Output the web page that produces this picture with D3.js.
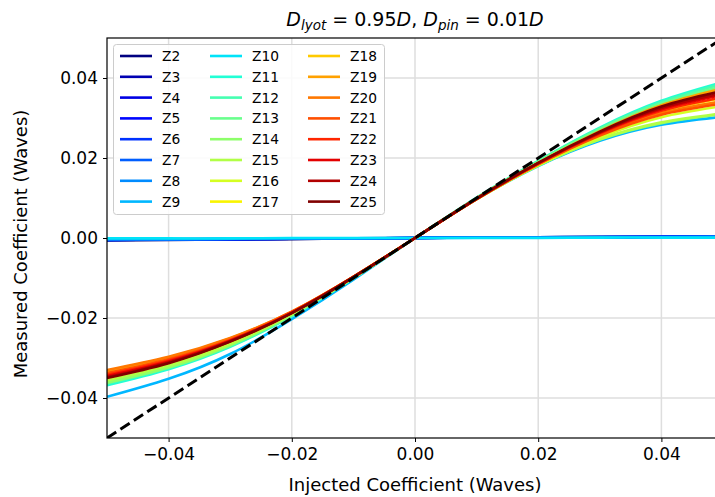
<!DOCTYPE html>
<html><head><meta charset="utf-8">
<script src="https://cdn.jsdelivr.net/npm/d3@7"></script>
<style>
body{margin:0;background:#fff;}
svg text{font-family:"DejaVu Sans",sans-serif;}
</style></head>
<body><svg id="c" width="715" height="497"></svg>
<script>
// ---- data ----
const injected = [-0.05,-0.04,-0.03,-0.02,-0.01,0,0.01,0.02,0.03,0.04,0.05];
const modes = ["Z2","Z3","Z4","Z5","Z6","Z7","Z8","Z9","Z10","Z11","Z12","Z13","Z14","Z15","Z16","Z17","Z18","Z19","Z20","Z21","Z22","Z23","Z24","Z25"];
const Z2  = [-0.0006,-0.0005,-0.0004,-0.0003,-0.0001,0,0.0001,0.0002,0.0003,0.0003,0.0004];
const Z3  = [-0.0005,-0.0004,-0.0003,-0.0002,-0.0001,0,0.0001,0.0002,0.0002,0.0003,0.0003];
const Z4  = [-0.0004,-0.0003,-0.0003,-0.0002,-0.0001,0,0.0001,0.0001,0.0002,0.0002,0.0003];
const Z5  = [-0.0005,-0.0004,-0.0003,-0.0002,-0.0001,0,0.0001,0.0002,0.0002,0.0003,0.0004];
const Z6  = [-0.0004,-0.0003,-0.0002,-0.0002,-0.0001,0,0.0001,0.0001,0.0002,0.0003,0.0003];
const Z7  = [-0.0005,-0.0004,-0.0003,-0.0002,-0.0001,0,0.0001,0.0002,0.0003,0.0003,0.0004];
const Z8  = [-0.0003,-0.0003,-0.0002,-0.0001,-0.0001,0,0.0001,0.0001,0.0002,0.0002,0.0003];
const Z9  = [-0.0397,-0.0352,-0.0290,-0.0203,-0.0104,0,0.0097,0.0180,0.0243,0.0283,0.0303];
const Z10 = [-0.0001,-0.0001,-0.0001,0.0000,0.0000,0,0.0000,0.0000,0.0001,0.0001,0.0001];
const Z11 = [-0.0368,-0.0328,-0.0272,-0.0195,-0.0101,0,0.0101,0.0193,0.0276,0.0343,0.0390];
const Z12 = [-0.0364,-0.0325,-0.0270,-0.0194,-0.0100,0,0.0100,0.0192,0.0274,0.0340,0.0386];
const Z13 = [-0.0360,-0.0322,-0.0268,-0.0193,-0.0100,0,0.0100,0.0191,0.0272,0.0336,0.0380];
const Z14 = [-0.0362,-0.0324,-0.0268,-0.0192,-0.0100,0,0.0097,0.0181,0.0246,0.0287,0.0310];
const Z15 = [-0.0356,-0.0319,-0.0265,-0.0190,-0.0099,0,0.0097,0.0181,0.0247,0.0289,0.0312];
const Z16 = [-0.0350,-0.0313,-0.0260,-0.0188,-0.0098,0,0.0097,0.0183,0.0252,0.0302,0.0330];
const Z17 = [-0.0340,-0.0305,-0.0255,-0.0186,-0.0097,0,0.0097,0.0184,0.0257,0.0310,0.0342];
const Z18 = [-0.0336,-0.0302,-0.0253,-0.0185,-0.0097,0,0.0098,0.0185,0.0260,0.0316,0.0350];
const Z19 = [-0.0332,-0.0299,-0.0251,-0.0184,-0.0097,0,0.0099,0.0188,0.0267,0.0332,0.0374];
const Z20 = [-0.0330,-0.0297,-0.0250,-0.0184,-0.0097,0,0.0098,0.0185,0.0258,0.0312,0.0342];
const Z21 = [-0.0338,-0.0303,-0.0254,-0.0185,-0.0097,0,0.0097,0.0184,0.0256,0.0308,0.0336];
const Z22 = [-0.0342,-0.0306,-0.0256,-0.0186,-0.0097,0,0.0098,0.0186,0.0261,0.0318,0.0352];
const Z23 = [-0.0345,-0.0309,-0.0257,-0.0187,-0.0098,0,0.0098,0.0187,0.0263,0.0322,0.0358];
const Z24 = [-0.0348,-0.0311,-0.0258,-0.0187,-0.0098,0,0.0098,0.0187,0.0264,0.0325,0.0362];
const Z25 = [-0.0350,-0.0313,-0.0259,-0.0188,-0.0098,0,0.0099,0.0188,0.0266,0.0329,0.0368];
const seriesValues = [Z2,Z3,Z4,Z5,Z6,Z7,Z8,Z9,Z10,Z11,Z12,Z13,Z14,Z15,Z16,Z17,Z18,Z19,Z20,Z21,Z22,Z23,Z24,Z25];
const identity = [-0.05,0.05];
const xTicks = [-0.04,-0.02,0.00,0.02,0.04];
const yTicks = [-0.04,-0.02,0.00,0.02,0.04];

// ---- jet colormap ----
function interpSeg(seg,t){
  for(let i=1;i<seg.length;i++){
    if(t<=seg[i][0]){const a=seg[i-1],b=seg[i];const f=(t-a[0])/(b[0]-a[0]);return a[1]+f*(b[1]-a[1]);}
  }
  return seg[seg.length-1][1];
}
const jR=[[0,0],[0.35,0],[0.66,1],[0.89,1],[1,0.5]];
const jG=[[0,0],[0.125,0],[0.375,1],[0.64,1],[0.91,0],[1,0]];
const jB=[[0,0.5],[0.11,1],[0.34,1],[0.65,0],[1,0]];
function jet(t){return d3.rgb(255*interpSeg(jR,t),255*interpSeg(jG,t),255*interpSeg(jB,t)).formatHex();}

// ---- layout ----
const L=107,R=723,T=38,B=438;
const svg=d3.select("#c");
const x=d3.scaleLinear().domain([-0.05,0.05]).range([L,R]);
const y=d3.scaleLinear().domain([-0.05,0.05]).range([B,T]);

// grid
const g=svg.append("g");
g.selectAll(".gx").data(xTicks).join("line").attr("x1",d=>x(d)).attr("x2",d=>x(d)).attr("y1",T).attr("y2",B)
 .attr("stroke","#dedede").attr("stroke-width",1.5);
g.selectAll(".gy").data(yTicks).join("line").attr("y1",d=>y(d)).attr("y2",d=>y(d)).attr("x1",L).attr("x2",R)
 .attr("stroke","#dedede").attr("stroke-width",1.5);

svg.append("clipPath").attr("id","clip").append("rect").attr("x",L).attr("y",T).attr("width",R-L).attr("height",B-T);
const plot=svg.append("g").attr("clip-path","url(#clip)");
const line=d3.line().x((d,i)=>x(injected[i])).y(d=>y(d)).curve(d3.curveNatural);
seriesValues.forEach((vals,i)=>{
  plot.append("path").attr("d",line(vals)).attr("fill","none")
    .attr("stroke",jet(i/(modes.length-1))).attr("stroke-width",2.6);
});
plot.append("line").attr("x1",x(identity[0])).attr("y1",y(identity[0])).attr("x2",x(identity[1])).attr("y2",y(identity[1]))
  .attr("stroke","#000").attr("stroke-width",3).attr("stroke-dasharray","11,5");

// axes
const xAxis=d3.axisBottom(x).tickValues(xTicks).tickFormat(d3.format(".2f")).tickSizeOuter(0).tickSize(4).tickPadding(4);
const yAxis=d3.axisLeft(y).tickValues(yTicks).tickFormat(d3.format(".2f")).tickSizeOuter(0).tickSize(4).tickPadding(5);
const gx=svg.append("g").attr("transform",`translate(0,${B})`).call(xAxis);
const gy=svg.append("g").attr("transform",`translate(${L},0)`).call(yAxis);
[gx,gy].forEach(a=>{a.select(".domain").remove();a.selectAll("text").attr("font-size",17).attr("fill","#000").attr("font-family","DejaVu Sans");a.selectAll("line").attr("stroke","#000").attr("stroke-width",1);});
gx.selectAll("text").attr("dy","0.85em");
// frame
svg.append("rect").attr("x",L).attr("y",T).attr("width",R-L).attr("height",B-T).attr("fill","none").attr("stroke","#000").attr("stroke-width",1.2);

// labels
svg.append("text").attr("x",(L+R)/2).attr("y",491).attr("text-anchor","middle").attr("font-size",18).text("Injected Coefficient (Waves)");
svg.append("text").attr("transform",`translate(27,${(T+B)/2 + 6}) rotate(-90)`).attr("text-anchor","middle").attr("font-size",18).text("Measured Coefficient (Waves)");

// title (mathtext style)
const title=svg.append("text").attr("x",(L+R)/2).attr("y",26).attr("text-anchor","middle").attr("font-size",19);
title.append("tspan").attr("font-style","italic").text("D");
title.append("tspan").attr("font-style","italic").attr("font-size",13.5).attr("dy",4).text("lyot");
title.append("tspan").attr("dy",-4).text(" = 0.95");
title.append("tspan").attr("font-style","italic").text("D");
title.append("tspan").text(", ");
title.append("tspan").attr("font-style","italic").text("D");
title.append("tspan").attr("font-style","italic").attr("font-size",13.5).attr("dy",4).text("pin");
title.append("tspan").attr("dy",-4).text(" = 0.01");
title.append("tspan").attr("font-style","italic").text("D");

// legend
const lg=svg.append("g");
lg.append("rect").attr("x",113.5).attr("y",44.5).attr("width",271).attr("height",170).attr("rx",3)
  .attr("fill","#fff").attr("fill-opacity",0.85).attr("stroke","#cccccc").attr("stroke-width",1);
modes.forEach((m,i)=>{
  const col=Math.floor(i/8),row=i%8;
  const lx=[120,210,308][col], ly=56+row*20.8;
  lg.append("line").attr("x1",lx).attr("x2",lx+32).attr("y1",ly).attr("y2",ly).attr("stroke",jet(i/(modes.length-1))).attr("stroke-width",2.6);
  lg.append("text").attr("x",lx+42).attr("y",ly+5).attr("font-size",13.8).attr("fill","#000").text(m);
});
</script></body></html>
